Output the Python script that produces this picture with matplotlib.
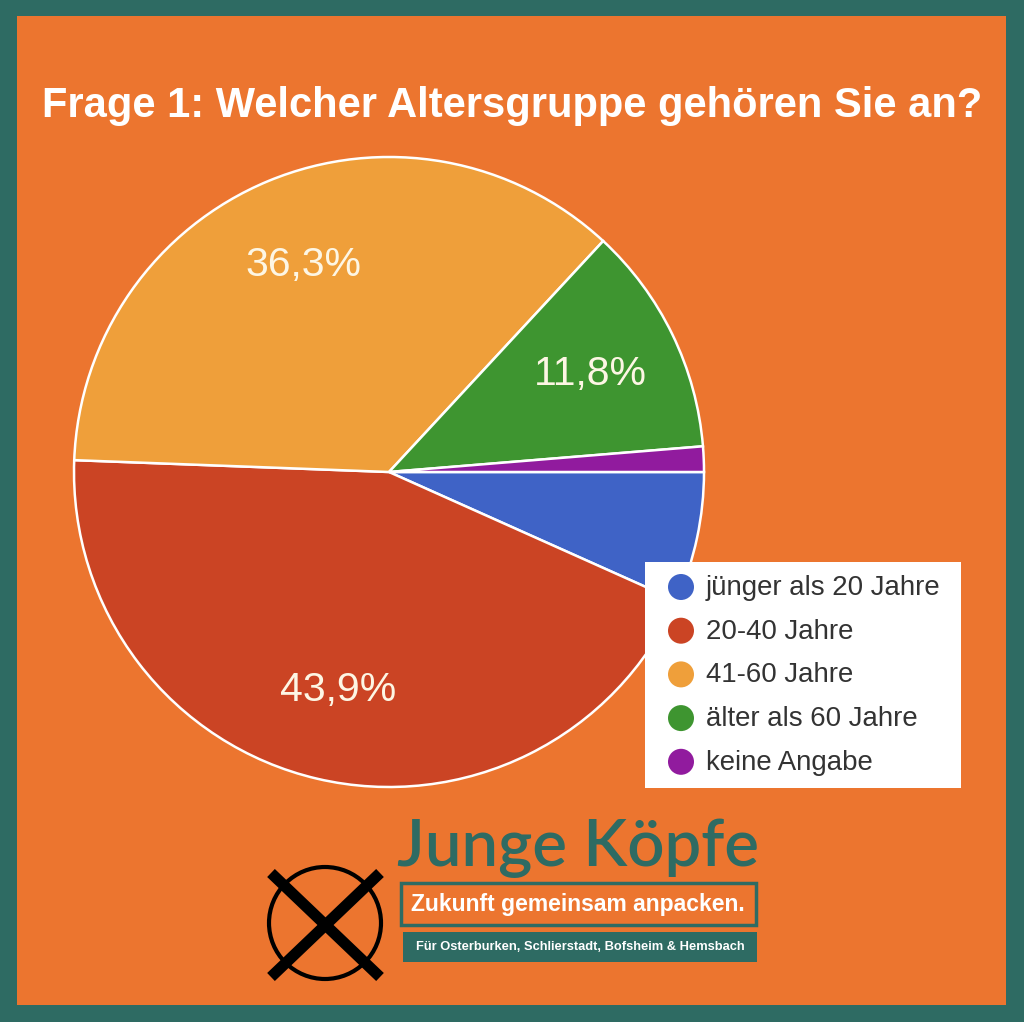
import matplotlib
matplotlib.use('Agg')
from matplotlib import pyplot as plt
from matplotlib.patches import Rectangle, Circle
from matplotlib.lines import Line2D

# survey answers, legend order
categories = ['jünger als 20 Jahre', '20-40 Jahre', '41-60 Jahre',
              'älter als 60 Jahre', 'keine Angabe']
shares = [6.7, 43.9, 36.3, 11.8, 1.3]
colors = ['#3f63c6', '#cb4424', '#ef9f3a', '#3e9530', '#911b9e']

title = 'Frage 1: Welcher Altersgruppe gehören Sie an?'
logo_name = 'Junge Köpfe'
logo_claim = 'Zukunft gemeinsam anpacken.'
logo_places = 'Für Osterburken, Schlierstadt, Bofsheim & Hemsbach'

TEAL = '#2e6b63'
ORANGE = '#ec752f'

W, H = 1024, 1022
fig = plt.figure(figsize=(W / 100, H / 100), dpi=100)
fig.patch.set_facecolor(TEAL)
plt.rcParams['font.family'] = ['Liberation Sans', 'DejaVu Sans']

# background frame (pixel coords)
bg = fig.add_axes([0, 0, 1, 1], zorder=0)
bg.set_xlim(0, W)
bg.set_ylim(H, 0)
bg.axis('off')
bg.add_patch(Rectangle((17, 16), 989, 989, facecolor=ORANGE, edgecolor='none'))
bg.text(512, 106, title, ha='center', va='center', color='white',
        fontsize=30, fontweight='bold')

# pie
cx, cy, r = 389, 472, 315
ax = fig.add_axes([(cx - r) / W, (H - cy - r) / H, 2 * r / W, 2 * r / H], zorder=1)


def pct_label(p):
    if p < 10:
        return ''
    return f'{p:.1f}%'.replace('.', ',')


wedges, texts, autotexts = ax.pie(
    shares, colors=colors, startangle=0, counterclock=False,
    autopct=pct_label, pctdistance=0.71,
    wedgeprops=dict(edgecolor='white', linewidth=1.8),
    textprops=dict(color='#fdf6e4', fontsize=29.5))
ax.set_xlim(-1.0, 1.0)
ax.set_ylim(-1.0, 1.0)
ax.set_aspect('equal')
ax.axis('off')

# overlay for legend and logo
ov = fig.add_axes([0, 0, 1, 1], zorder=2)
ov.set_xlim(0, W)
ov.set_ylim(H, 0)
ov.axis('off')
ov.patch.set_alpha(0)

ov.add_patch(Rectangle((645, 562), 316, 226, facecolor='white', edgecolor='none'))
for i, (lab, col) in enumerate(zip(categories, colors)):
    y = 587 + i * 43.7
    ov.add_patch(Circle((681, y), 13, facecolor=col, edgecolor='none'))
    ov.text(706, y + 1, lab, ha='left', va='center', color='#333333', fontsize=19.9)

# logo: ballot cross
ov.add_patch(Circle((325, 923), 56, facecolor='none', edgecolor='black', linewidth=3))
ov.add_line(Line2D([271, 380], [873, 977], color='black', linewidth=8, solid_capstyle='butt'))
ov.add_line(Line2D([380, 271], [873, 977], color='black', linewidth=8, solid_capstyle='butt'))

ov.text(578, 848, logo_name, ha='center', va='center', color=TEAL,
        fontsize=47, fontweight='semibold', family=['Lato', 'DejaVu Sans'])
ov.add_patch(Rectangle((401, 883), 355, 42, facecolor='none', edgecolor=TEAL, linewidth=2.5))
ov.text(578, 905, logo_claim, ha='center', va='center', color='white',
        fontsize=16.5, fontweight='bold')
ov.add_patch(Rectangle((403, 932), 354, 30, facecolor=TEAL, edgecolor='none'))
ov.text(580, 947, logo_places, ha='center', va='center', color='white',
        fontsize=9.3, fontweight='bold')

fig.savefig('out.png', dpi=100, facecolor=fig.get_facecolor())
